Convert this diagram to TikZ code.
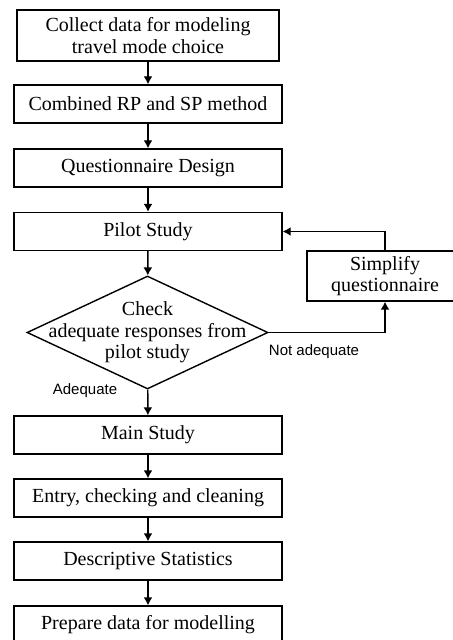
\documentclass[tikz,border=0pt]{standalone}
\usepackage{fontspec}
\setmainfont{Liberation Serif}
\newfontfamily\labelfont{Liberation Sans}
\usetikzlibrary{arrows.meta}
\usetikzlibrary{shapes.geometric}

\begin{document}
\begin{tikzpicture}[x=0.5pt, y=-0.5pt, line width=0.7pt,
	stepbox/.style={draw, rectangle, minimum width=134pt, minimum height=19pt, inner sep=0pt, align=center, font=\fontsize{10}{10.8}\selectfont},
	decision/.style={draw, diamond, minimum width=120.5pt, minimum height=56.5pt, inner sep=0pt},
	arrow/.style={-{Latex[length=4pt, width=4.5pt]}},
	answer/.style={font=\labelfont\fontsize{7.5}{9}\selectfont}]

	\useasboundingbox (0,0) rectangle (452,640);

	% Vorbereitung
	\node[stepbox, minimum width=131pt, minimum height=25.5pt] (S1) at (148,35.5) {Collect data for modeling\\travel mode choice};
	\node[stepbox] (S2) at (148,104) {Combined RP and SP method};
	\node[stepbox] (S3) at (148,168) {Questionnaire Design};
	\node[stepbox] (S4) at (148,231.5) {Pilot Study};

	\draw[arrow] (S1) -- (S2);
	\draw[arrow] (S2) -- (S3);
	\draw[arrow] (S3) -- (S4);

	% Pruefung
	\node[decision, label={[align=center, font=\fontsize{10}{10.8}\selectfont]center:Check\\adequate responses from\\pilot study}] (D) at (147.5,332.5) {};
	\node[stepbox, minimum width=78pt, minimum height=25pt] (Q) at (385,276) {Simplify\\questionnaire};

	\draw[arrow] (S4) -- (D);
	\draw[arrow] (D.east) -| (Q.south);
	\draw[arrow] (Q.north) |- (S4.east);

	\node[answer] (NA) at (314,352) {Not adequate};
	\node[answer] (A) at (85,391) {Adequate};

	% Hauptstudie
	\node[stepbox] (S5) at (148,435) {Main Study};
	\node[stepbox] (S6) at (148,498) {Entry, checking and cleaning};
	\node[stepbox] (S7) at (148,561) {Descriptive Statistics};
	\node[stepbox] (S8) at (148,625) {Prepare data for modelling};

	\draw[arrow] (D) -- (S5);
	\draw[arrow] (S5) -- (S6);
	\draw[arrow] (S6) -- (S7);
	\draw[arrow] (S7) -- (S8);
\end{tikzpicture}
\end{document}
